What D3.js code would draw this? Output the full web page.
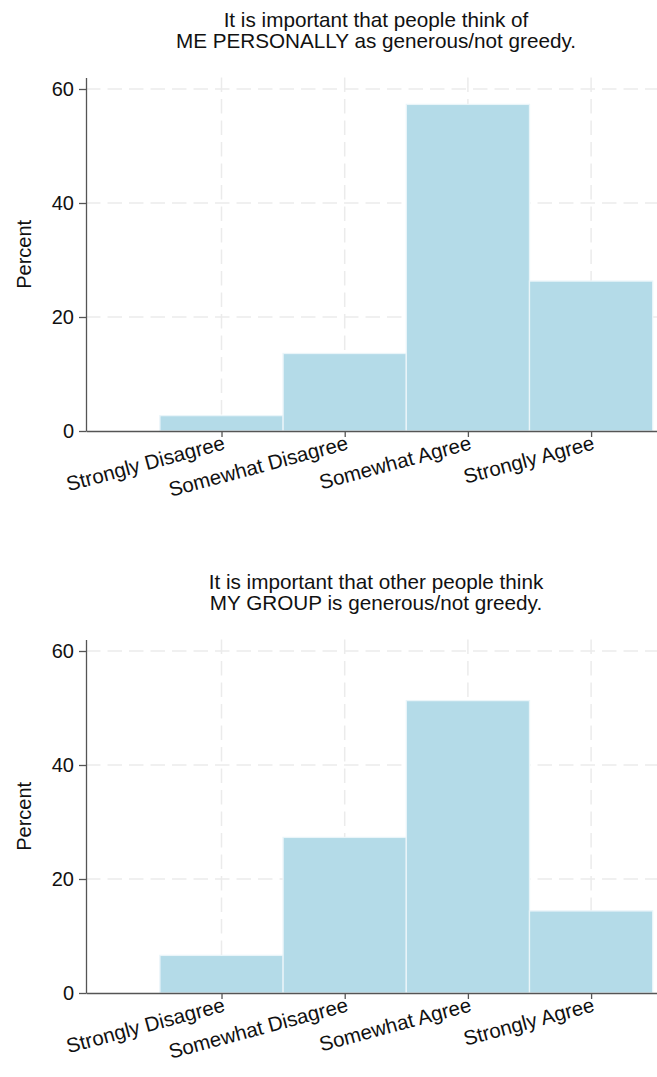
<!DOCTYPE html>
<html><head><meta charset="utf-8">
<script src="https://cdn.jsdelivr.net/npm/d3@7"></script>
<style>
body{margin:0;background:#fff;}
svg text{font-family:"Liberation Sans",Arial,Helvetica,sans-serif;fill:#111;}
</style>
</head><body>
<svg id="c" width="657" height="1077"></svg>
<script>
const categories = ["Strongly Disagree","Somewhat Disagree","Somewhat Agree","Strongly Agree"];
const codes = [1,2,3,4];
const personalValues = [2.7, 13.6, 57.3, 26.3];
const groupValues = [6.6, 27.3, 51.3, 14.4];
const yTicks = [0,20,40,60];
const titlePersonal = ["It is important that people think of","ME PERSONALLY as generous/not greedy."];
const titleGroup = ["It is important that other people think","MY GROUP is generous/not greedy."];
const yLabel = "Percent";

const svg = d3.select("#c");
const left = 86, right = 657;
const x = d3.scaleLinear().domain([-0.1, 4.535]).range([left, right]);
const axisColor = "#555";
const gridColor = "#ebebeb";
const barFill = "#b4dbe8";
const labelAngle = 15;

function panel(offset, values, titleLines) {
  const g = svg.append("g").attr("transform", `translate(0,${offset})`);
  const y = d3.scaleLinear().domain([0, 62]).range([431, 431 - 62 * 5.7]);

  // title
  g.selectAll("text.title").data(titleLines).join("text")
    .attr("class", "title")
    .attr("x", 376).attr("y", (d, i) => 26.7 + i * 21)
    .attr("text-anchor", "middle")
    .style("font-size", "20.7px")
    .text(d => d);

  // grid
  g.selectAll("line.hg").data(yTicks.filter(d => d > 0)).join("line")
    .attr("class", "hg")
    .attr("x1", left).attr("x2", right)
    .attr("y1", d => y(d)).attr("y2", d => y(d))
    .attr("stroke", gridColor).attr("stroke-width", 1.5)
    .attr("stroke-dasharray", "14.5,7");
  g.selectAll("line.vg").data(codes).join("line")
    .attr("class", "vg")
    .attr("x1", d => x(d)).attr("x2", d => x(d))
    .attr("y1", y(62)).attr("y2", y(0))
    .attr("stroke", gridColor).attr("stroke-width", 1.5)
    .attr("stroke-dasharray", "14.5,7");

  // bars
  g.selectAll("rect.bar").data(values).join("rect")
    .attr("class", "bar")
    .attr("x", (d, i) => x(codes[i] - 0.5))
    .attr("width", (d, i) => x(codes[i] + 0.5) - x(codes[i] - 0.5))
    .attr("y", d => y(d))
    .attr("height", d => y(0) - y(d))
    .attr("fill", barFill)
    .attr("stroke", "#eaf5f9").attr("stroke-width", 1.3);

  // y axis
  const ya = g.append("g").attr("transform", `translate(${left},0)`)
    .call(d3.axisLeft(y).tickValues(yTicks).tickSize(7).tickSizeOuter(0).tickPadding(5));
  ya.select(".domain").attr("stroke", axisColor).attr("stroke-width", 1.3);
  ya.selectAll(".tick line").attr("stroke", axisColor).attr("stroke-width", 1.3);
  ya.selectAll(".tick text").style("font-size", "20px").attr("fill", "#111");

  // x axis
  const xa = g.append("g").attr("transform", `translate(0,${y(0)})`)
    .call(d3.axisBottom(x).tickValues(codes).tickFormat((d, i) => categories[i])
      .tickSize(6).tickSizeOuter(0));
  xa.select(".domain").attr("stroke", axisColor).attr("stroke-width", 1.3);
  xa.selectAll(".tick line").attr("stroke", axisColor).attr("stroke-width", 1.3);
  xa.selectAll(".tick text")
    .style("font-size", "20.5px").attr("fill", "#111")
    .attr("text-anchor", "end")
    .attr("dy", null).attr("y", null)
    .attr("transform", `translate(4,18) rotate(${-labelAngle})`);

  // y label
  g.append("text")
    .attr("transform", `translate(30.5,${(y(0) + y(62)) / 2}) rotate(-90)`)
    .attr("text-anchor", "middle")
    .style("font-size", "20px")
    .text(yLabel);
}

panel(0, personalValues, titlePersonal);
panel(562, groupValues, titleGroup);
</script>
</body></html>
